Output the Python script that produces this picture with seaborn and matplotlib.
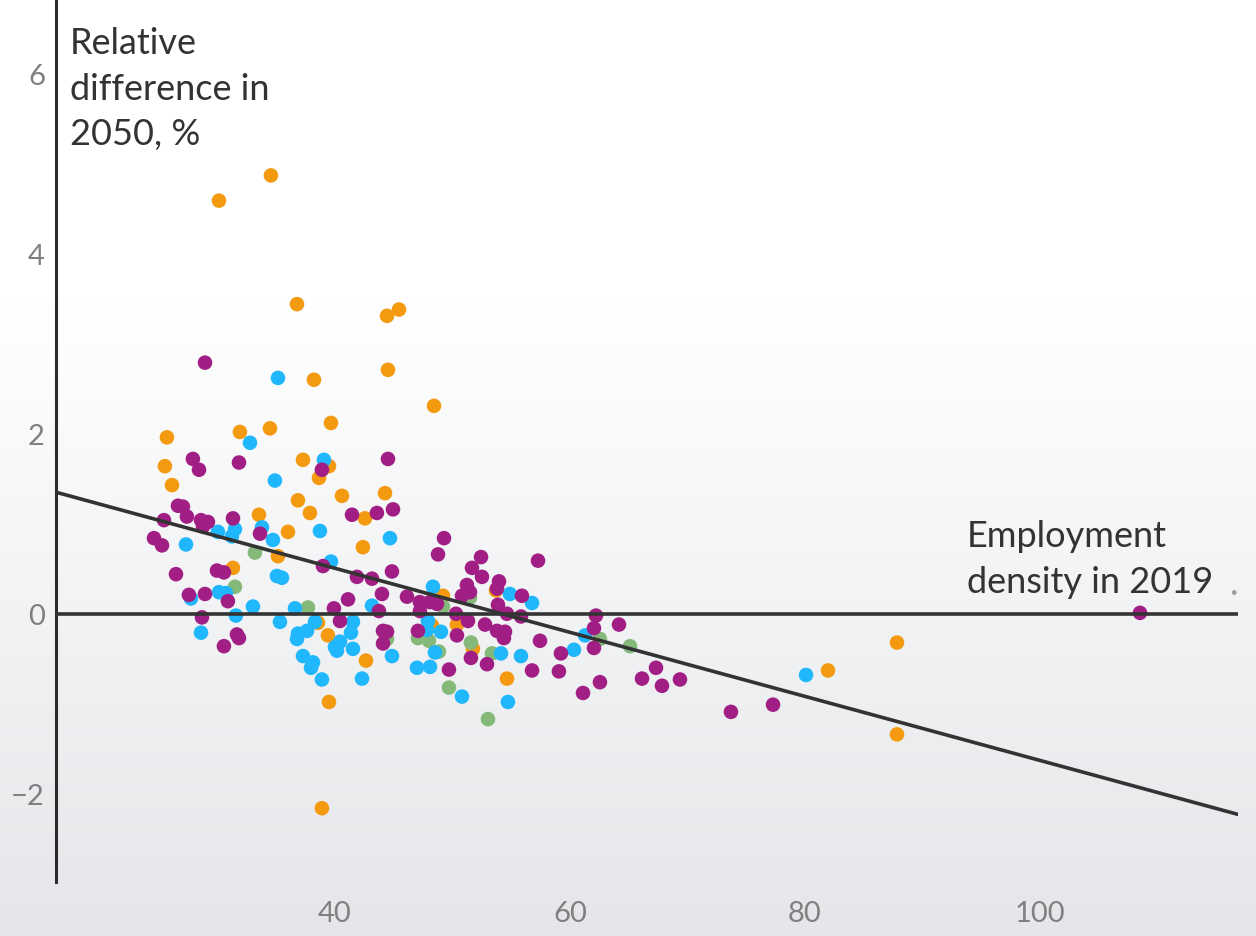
import numpy as np
import pandas as pd
import matplotlib
matplotlib.use("Agg")
import matplotlib.pyplot as plt
import seaborn as sns

# employment density 2019 (x) and relative difference in 2050, % (y), per colour group
orange_x = [34.55, 30.13, 36.77, 44.43, 45.45, 38.21, 44.51, 48.43, 25.70, 31.91,
            34.47, 39.66, 25.53, 26.13, 37.28, 39.49, 38.64, 36.85, 37.87, 40.60,
            44.26, 42.55, 33.53, 36.00, 42.38, 35.15, 31.32, 49.19, 53.70, 38.55,
            39.40, 42.64, 39.49, 38.89, 48.26, 50.38, 51.74, 54.64, 81.96, 87.83,
            87.83]
orange_y = [4.87, 4.59, 3.44, 3.31, 3.38, 2.60, 2.71, 2.31, 1.96, 2.02,
            2.06, 2.12, 1.64, 1.43, 1.71, 1.64, 1.51, 1.26, 1.12, 1.31,
            1.34, 1.06, 1.10, 0.91, 0.74, 0.64, 0.51, 0.20, 0.26, -0.10,
            -0.24, -0.52, -0.98, -2.16, -0.13, -0.12, -0.39, -0.72, -0.63, -0.32,
            -1.34]

green_x = [33.19, 31.49, 37.70, 44.43, 51.49, 49.19, 47.06, 48.00, 48.85, 51.57,
           49.70, 53.36, 53.02, 62.55, 65.11]
green_y = [0.68, 0.30, 0.07, -0.28, 0.18, 0.08, -0.27, -0.30, -0.42, -0.32,
           -0.82, -0.44, -1.17, -0.28, -0.36]

blue_x = [35.15, 32.77, 39.06, 34.89, 44.68, 31.49, 33.79, 38.72, 30.04, 31.23,
          34.72, 27.32, 39.66, 35.06, 35.49, 30.13, 30.72, 27.74, 33.02, 36.60,
          31.57, 35.32, 38.30, 28.60, 37.62, 36.85, 36.77, 40.00, 40.17, 37.28,
          38.13, 37.96, 38.89, 43.15, 41.53, 41.36, 40.43, 41.53, 44.85, 42.30,
          46.98, 48.09, 48.34, 47.91, 47.83, 49.02, 48.51, 50.81, 54.13, 55.83,
          54.72, 54.89, 56.77, 60.34, 61.28, 80.09]
blue_y = [2.62, 1.90, 1.71, 1.48, 0.84, 0.94, 0.96, 0.92, 0.91, 0.86,
          0.82, 0.77, 0.58, 0.42, 0.40, 0.24, 0.23, 0.17, 0.08, 0.06,
          -0.02, -0.09, -0.09, -0.21, -0.19, -0.22, -0.28, -0.37, -0.41, -0.47,
          -0.54, -0.60, -0.73, 0.09, -0.09, -0.21, -0.31, -0.39, -0.47, -0.72,
          -0.60, -0.59, 0.30, -0.08, -0.18, -0.20, -0.43, -0.92, -0.44, -0.47,
          -0.98, 0.22, 0.12, -0.40, -0.24, -0.68]

purple_x = [28.94, 44.51, 27.91, 28.43, 31.83, 38.89, 26.64, 27.06, 27.40, 25.45,
            28.60, 29.19, 28.77, 31.32, 33.62, 24.60, 25.28, 38.98, 26.47, 29.96,
            30.55, 27.57, 28.94, 30.89, 39.91, 28.68, 31.66, 31.83, 30.55, 41.45,
            43.57, 44.94, 49.28, 48.77, 52.43, 51.66, 52.51, 41.87, 43.15, 44.85,
            44.00, 41.11, 51.23, 51.49, 50.81, 53.96, 53.79, 55.91, 53.87, 47.23,
            48.09, 48.68, 46.13, 43.74, 40.43, 44.09, 44.43, 44.09, 47.23, 47.06,
            50.30, 51.32, 50.38, 51.57, 49.70, 52.77, 54.64, 53.79, 54.47, 54.38,
            55.83, 52.94, 56.77, 57.28, 57.45, 59.23, 59.06, 62.04, 62.21, 62.04,
            64.17, 61.11, 62.55, 66.13, 67.32, 67.83, 69.36, 73.70, 77.28, 108.51]
purple_y = [2.79, 1.72, 1.72, 1.60, 1.68, 1.60, 1.20, 1.19, 1.08, 1.04,
            1.04, 1.02, 0.97, 1.06, 0.89, 0.84, 0.76, 0.53, 0.44, 0.48,
            0.46, 0.21, 0.22, 0.14, 0.06, -0.04, -0.23, -0.27, -0.36, 1.10,
            1.12, 1.16, 0.84, 0.66, 0.63, 0.51, 0.41, 0.41, 0.39, 0.47,
            0.22, 0.16, 0.32, 0.24, 0.20, 0.36, 0.28, 0.20, 0.10, 0.13,
            0.13, 0.11, 0.19, 0.03, -0.08, -0.19, -0.20, -0.33, 0.03, -0.19,
            0.00, -0.08, -0.24, -0.49, -0.62, -0.12, 0.00, -0.19, -0.20, -0.27,
            -0.03, -0.56, -0.63, 0.59, -0.30, -0.44, -0.64, -0.38, -0.02, -0.16,
            -0.12, -0.88, -0.76, -0.72, -0.60, -0.80, -0.73, -1.09, -1.01, 0.01]

x_ticks = [40, 60, 80, 100]
y_ticks = [-2, 0, 2, 4, 6]
y_tick_labels = ["\u22122", "0", "2", "4", "6"]

palette = {"orange": "#F39A10", "green": "#84B97A", "blue": "#20B7FD", "purple": "#A11F84"}

df = pd.concat([
    pd.DataFrame({"density": orange_x, "diff": orange_y, "group": "orange"}),
    pd.DataFrame({"density": green_x, "diff": green_y, "group": "green"}),
    pd.DataFrame({"density": blue_x, "diff": blue_y, "group": "blue"}),
    pd.DataFrame({"density": purple_x, "diff": purple_y, "group": "purple"}),
], ignore_index=True)

sns.set_theme(style="white")
plt.rcParams["font.family"] = ["Lato", "DejaVu Sans"]

fig = plt.figure(figsize=(12.56, 9.37), dpi=100)

# background: white at top fading to light grey at the bottom
bg = fig.add_axes([0, 0, 1, 1], zorder=-10)
rows = np.arange(937)
t = np.clip((rows - 300) / (937 - 300), 0, 1)[:, None]
top = np.array([1.0, 1.0, 1.0])
bottom = np.array([228, 230, 233]) / 255
grad = top * (1 - t) + bottom * t
bg.imshow(grad[:, None, :], aspect="auto", extent=[0, 1, 0, 1])
bg.axis("off")

ax = fig.add_axes([56 / 1256, 54 / 937, (1238 - 56) / 1256, 883 / 937])
ax.patch.set_alpha(0)
xlim = (16.26, 116.85)
ylim = (-2.98, 6.83)
ax.set_xlim(xlim)
ax.set_ylim(ylim)

sns.scatterplot(data=df, x="density", y="diff", hue="group", palette=palette,
                s=110, linewidth=0, legend=False, ax=ax, zorder=3)
sns.regplot(data=df, x="density", y="diff", scatter=False, ci=None, truncate=False,
            color="#333333", line_kws=dict(lw=2.6, zorder=5), ax=ax)
ax.axhline(0, color="#333333", lw=2.6, zorder=4)

ax.set_xlim(xlim)
ax.set_ylim(ylim)
ax.set_xticks(x_ticks)
ax.set_yticks(y_ticks)
ax.set_yticklabels(y_tick_labels)
ax.set_xlabel("")
ax.set_ylabel("")
ax.tick_params(axis="both", length=0, labelsize=21, labelcolor="#808080")
ax.tick_params(axis="y", pad=8)
ax.tick_params(axis="x", pad=13)
for side in ["top", "right", "bottom"]:
    ax.spines[side].set_visible(False)
ax.spines["left"].set_color("#2b2b2b")
ax.spines["left"].set_linewidth(2.2)

fig.text(70 / 1256, 1 - 27 / 937, "Relative\ndifference in\n2050, %", ha="left", va="top",
         fontsize=26, color="#333333", linespacing=1.47)
fig.text(967 / 1256, 1 - 520 / 937, "Employment\ndensity in 2019", ha="left", va="top",
         fontsize=26, color="#333333", linespacing=1.47)
fig.text(1230 / 1256, 1 - 595 / 937, ".", ha="left", va="baseline",
         fontsize=26, color="#9a9a9a")

fig.savefig("out.png", dpi=100)
